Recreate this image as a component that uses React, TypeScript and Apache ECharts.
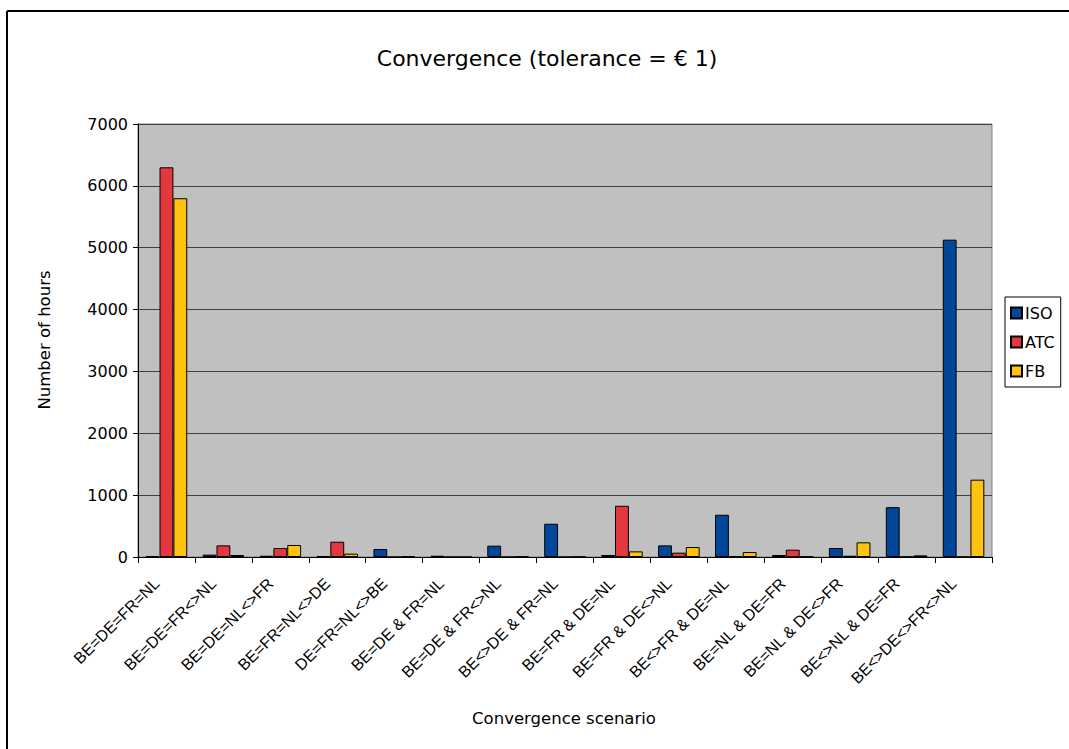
import React, { useEffect, useRef } from "react";
import * as echarts from "echarts";

const categories = [
  "BE=DE=FR=NL",
  "BE=DE=FR<>NL",
  "BE=DE=NL<>FR",
  "BE=FR=NL<>DE",
  "DE=FR=NL<>BE",
  "BE=DE & FR=NL",
  "BE=DE & FR<>NL",
  "BE<>DE & FR=NL",
  "BE=FR & DE=NL",
  "BE=FR & DE<>NL",
  "BE<>FR & DE=NL",
  "BE=NL & DE=FR",
  "BE=NL & DE<>FR",
  "BE<>NL & DE=FR",
  "BE<>DE<>FR<>NL",
];

const isoValues = [15, 38, 20, 15, 129, 20, 183, 538, 32, 188, 683, 32, 145, 806, 5130];
const atcValues = [6300, 188, 145, 247, 0, 0, 0, 0, 828, 70, 15, 118, 20, 5, 3];
const fbValues = [5800, 32, 194, 54, 10, 0, 8, 5, 91, 161, 80, 8, 237, 27, 1250];

const FONT = "DejaVu Sans";
const LABEL_FONT = "Liberation Sans";

export default function App() {
  const ref = useRef<HTMLDivElement>(null);

  useEffect(() => {
    document.body.style.margin = "0";
    if (!ref.current) return;
    const chart = echarts.init(ref.current, null, { renderer: "svg" });
    const barStyle = (color: string) => ({
      color,
      borderColor: "#000",
      borderWidth: 1,
    });
    chart.setOption({
      animation: false,
      backgroundColor: "#fff",
      textStyle: { fontFamily: FONT },
      title: {
        text: "Convergence (tolerance = € 1)",
        left: 542,
        top: 42,
        textAlign: "center",
        textStyle: { fontFamily: FONT, fontSize: 22, fontWeight: "normal", color: "#000" },
      },
      legend: {
        orient: "vertical",
        left: 1005,
        top: 297,
        backgroundColor: "#fff",
        borderColor: "#000",
        borderWidth: 1,
        borderRadius: 0,
        padding: [8, 6, 8, 5],
        itemWidth: 11,
        itemHeight: 11,
        itemGap: 13,
        icon: "rect",
        textStyle: { fontFamily: FONT, fontSize: 16, color: "#000", lineHeight: 16, padding: [0, 0, 0, -2] },
        data: ["ISO", "ATC", "FB"],
      },
      grid: {
        left: 138,
        top: 124,
        right: 77,
        bottom: 192,
        show: true,
        backgroundColor: "#c0c0c0",
        borderColor: "#808080",
        borderWidth: 1,
      },
      xAxis: {
        type: "category",
        data: categories,
        axisLine: { lineStyle: { color: "#000", width: 1 } },
        axisTick: { show: true, length: 6, lineStyle: { color: "#000" } },
        axisLabel: {
          rotate: 45,
          interval: 0,
          margin: 14,
          padding: [0, 14, 0, 0],
          fontFamily: LABEL_FONT,
          fontSize: 16,
          color: "#000",
        },
      },
      yAxis: {
        type: "value",
        min: 0,
        max: 7000,
        interval: 1000,
        axisLine: { show: true, lineStyle: { color: "#000", width: 1 } },
        axisTick: { show: true, length: 5, lineStyle: { color: "#000" } },
        axisLabel: {
          fontFamily: FONT,
          fontSize: 16,
          color: "#000",
          margin: 10,
          formatter: (v: number) => String(v),
        },
        splitLine: { lineStyle: { color: "#404040", width: 1 } },
      },
      series: [
        { name: "ISO", type: "bar", data: isoValues, itemStyle: barStyle("#00479a"), barGap: "0%", barCategoryGap: "27%" },
        { name: "ATC", type: "bar", data: atcValues, itemStyle: barStyle("#e4383f"), barGap: "0%", barCategoryGap: "27%" },
        { name: "FB", type: "bar", data: fbValues, itemStyle: barStyle("#ffc20e"), barGap: "0%", barCategoryGap: "27%" },
      ],
      graphic: [
        { type: "line", shape: { x1: 7, y1: 11, x2: 1069, y2: 11 }, style: { stroke: "#000", lineWidth: 2 } },
        { type: "line", shape: { x1: 7, y1: 11, x2: 7, y2: 749 }, style: { stroke: "#000", lineWidth: 2 } },
        {
          type: "text",
          x: 44,
          y: 340,
          rotation: Math.PI / 2,
          style: {
            text: "Number of hours",
            fontFamily: FONT,
            fontSize: 16.5,
            fill: "#000",
            align: "center",
            verticalAlign: "middle",
          },
        },
        {
          type: "text",
          x: 564,
          y: 718,
          style: {
            text: "Convergence scenario",
            fontFamily: FONT,
            fontSize: 16.5,
            fill: "#000",
            align: "center",
            verticalAlign: "middle",
          },
        },
      ],
    });
    return () => chart.dispose();
  }, []);

  return <div ref={ref} style={{ width: 1069, height: 749 }} />;
}
